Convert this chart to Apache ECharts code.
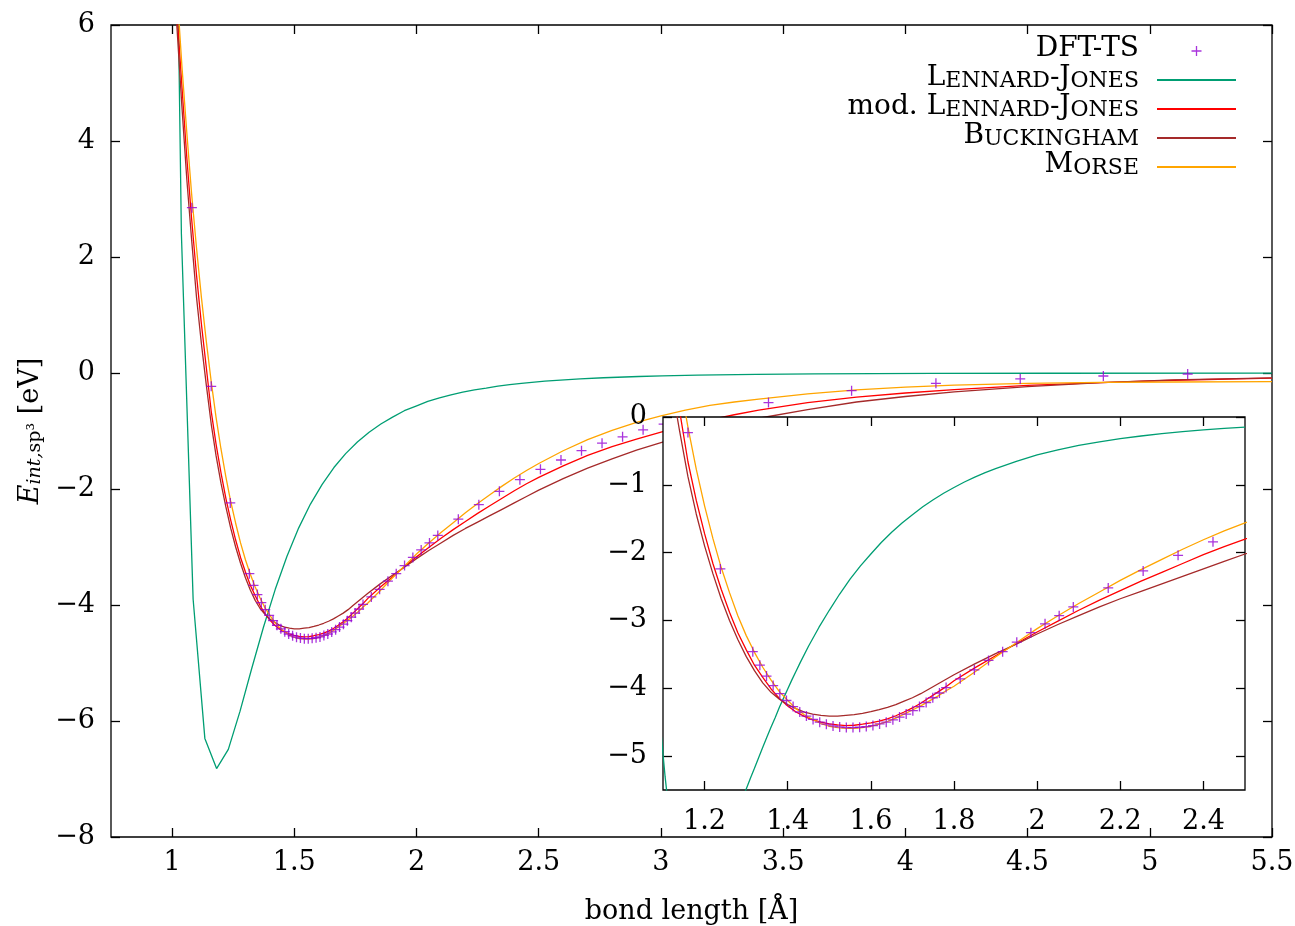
<!DOCTYPE html>
<html><head><meta charset="utf-8">
<script src="https://cdn.jsdelivr.net/npm/echarts@6/dist/echarts.min.js"></script>
<style>html,body{margin:0;padding:0;background:#fff}#c{width:1295px;height:926px}</style>
</head><body><div id="c"></div>
<script>
// ---------- data ----------
const curveX = [1.00,1.02,1.04,1.06,1.08,1.10,1.12,1.14,1.16,1.18,1.20,1.22,1.24,1.26,1.28,1.30,1.32,1.34,1.36,1.38,1.40,1.42,1.44,1.46,1.48,1.50,1.52,1.54,1.56,1.58,1.60,1.62,1.64,1.66,1.68,1.70,1.72,1.74,1.76,1.78,1.80,1.85,1.90,1.95,2.00,2.05,2.10,2.15,2.20,2.25,2.30,2.35,2.40,2.45,2.50,2.60,2.70,2.80,2.90,3.00,3.10,3.20,3.30,3.40,3.60,3.80,4.00,4.20,4.50,4.80,5.10,5.50];
const morseY = [8.0,6.6,5.3,4.15,3.08,2.15,1.30,0.54,-0.15,-0.77,-1.31,-1.79,-2.22,-2.59,-2.93,-3.22,-3.47,-3.69,-3.88,-4.05,-4.18,-4.30,-4.39,-4.46,-4.52,-4.56,-4.58,-4.59,-4.59,-4.58,-4.56,-4.53,-4.49,-4.44,-4.38,-4.32,-4.26,-4.19,-4.12,-4.04,-3.97,-3.76,-3.54,-3.33,-3.12,-2.93,-2.75,-2.58,-2.41,-2.25,-2.10,-1.95,-1.81,-1.68,-1.56,-1.34,-1.15,-0.99,-0.85,-0.74,-0.64,-0.56,-0.50,-0.45,-0.36,-0.29,-0.245,-0.21,-0.178,-0.162,-0.155,-0.15];
const modLjY = [7.65,6.2,4.95,3.72,2.65,1.68,0.84,0.09,-0.66,-1.23,-1.72,-2.16,-2.54,-2.88,-3.18,-3.43,-3.66,-3.84,-4.01,-4.15,-4.26,-4.35,-4.415,-4.465,-4.50,-4.525,-4.54,-4.55,-4.545,-4.53,-4.51,-4.485,-4.45,-4.405,-4.35,-4.29,-4.22,-4.14,-4.06,-3.98,-3.89,-3.70,-3.52,-3.34,-3.17,-3.01,-2.85,-2.70,-2.56,-2.42,-2.29,-2.16,-2.03,-1.91,-1.80,-1.60,-1.42,-1.27,-1.14,-1.02,-0.91,-0.81,-0.72,-0.64,-0.51,-0.415,-0.345,-0.285,-0.215,-0.165,-0.125,-0.09];
const buckY = [7.45,5.95,4.6,3.35,2.29,1.30,0.50,-0.21,-0.88,-1.43,-1.90,-2.31,-2.68,-3.00,-3.28,-3.53,-3.74,-3.92,-4.06,-4.16,-4.24,-4.30,-4.35,-4.38,-4.40,-4.41,-4.41,-4.40,-4.39,-4.37,-4.345,-4.315,-4.28,-4.24,-4.19,-4.14,-4.08,-4.01,-3.94,-3.87,-3.80,-3.64,-3.49,-3.35,-3.20,-3.06,-2.93,-2.80,-2.68,-2.57,-2.46,-2.35,-2.24,-2.13,-2.02,-1.82,-1.64,-1.48,-1.33,-1.20,-1.08,-0.97,-0.87,-0.78,-0.63,-0.50,-0.405,-0.325,-0.235,-0.165,-0.12,-0.085];

// Lennard-Jones as sampled coarsely in the main panel
const ljMainX = [0.990,1.038,1.086,1.134,1.182,1.230,1.278,1.326,1.374,1.422,1.470,1.518,1.566,1.614,1.662,1.710,1.758,1.806,1.854,1.902,1.950,1.998,2.046,2.094,2.141,2.189,2.237,2.285,2.333,2.381,2.429,2.525,2.621,2.669,2.765,2.909,3.005,3.149,3.389,3.629,4.109,4.588,5.500];
const ljMainY = [16.9,2.4,-3.9,-6.3,-6.82,-6.49,-5.83,-5.09,-4.38,-3.73,-3.16,-2.67,-2.26,-1.92,-1.63,-1.39,-1.19,-1.02,-0.88,-0.76,-0.65,-0.57,-0.49,-0.43,-0.376,-0.33,-0.29,-0.26,-0.226,-0.20,-0.18,-0.141,-0.113,-0.10,-0.082,-0.06,-0.05,-0.038,-0.024,-0.016,-0.008,-0.004,-0.001];
// Lennard-Jones as sampled finely in the inset
const ljInsetX = [1.09,1.10,1.105,1.11,1.115,1.12,1.18,1.24,1.28,1.29,1.30,1.31,1.32,1.33,1.34,1.35,1.36,1.37,1.38,1.39,1.40,1.41,1.42,1.43,1.45,1.475,1.50,1.525,1.55,1.575,1.60,1.625,1.65,1.675,1.70,1.725,1.75,1.775,1.80,1.825,1.85,1.875,1.90,1.95,2.00,2.05,2.10,2.15,2.20,2.25,2.30,2.35,2.40,2.45,2.50];
const ljInsetY = [-4.30,-4.97,-5.30,-5.58,-5.84,-6.05,-6.82,-6.36,-5.80,-5.64,-5.49,-5.33,-5.18,-5.025,-4.87,-4.72,-4.57,-4.43,-4.28,-4.145,-4.01,-3.876,-3.75,-3.622,-3.38,-3.103,-2.85,-2.61,-2.39,-2.196,-2.02,-1.851,-1.70,-1.563,-1.44,-1.324,-1.22,-1.125,-1.04,-0.959,-0.886,-0.82,-0.76,-0.655,-0.56,-0.486,-0.42,-0.367,-0.32,-0.28,-0.246,-0.217,-0.19,-0.169,-0.15];

const dftX = [1.081,1.160,1.238,1.316,1.333,1.349,1.365,1.381,1.397,1.413,1.429,1.445,1.461,1.477,1.493,1.509,1.525,1.541,1.557,1.573,1.589,1.605,1.621,1.637,1.653,1.669,1.685,1.701,1.717,1.733,1.749,1.765,1.781,1.815,1.849,1.883,1.917,1.951,1.985,2.019,2.053,2.087,2.171,2.255,2.339,2.423,2.507,2.591,2.675,2.759,2.843,2.927,3.011,3.440,3.780,4.125,4.470,4.810,5.155];
const dftY = [2.85,-0.23,-2.24,-3.46,-3.66,-3.82,-3.96,-4.08,-4.18,-4.27,-4.35,-4.41,-4.46,-4.50,-4.53,-4.555,-4.57,-4.58,-4.58,-4.575,-4.565,-4.55,-4.525,-4.50,-4.465,-4.425,-4.38,-4.33,-4.27,-4.21,-4.14,-4.07,-3.99,-3.86,-3.73,-3.59,-3.46,-3.32,-3.18,-3.05,-2.93,-2.80,-2.52,-2.27,-2.04,-1.84,-1.66,-1.50,-1.34,-1.21,-1.10,-0.98,-0.88,-0.51,-0.305,-0.178,-0.103,-0.052,-0.017];

const mainXTicks = [1,1.5,2,2.5,3,3.5,4,4.5,5,5.5];
const mainYTicks = [-8,-6,-4,-2,0,2,4,6];
const insetXTicks = [1.2,1.4,1.6,1.8,2,2.2,2.4];
const insetYTicks = [-5,-4,-3,-2,-1,0];

const seriesNames = ['DFT-TS','Lennard-Jones','mod. Lennard-Jones','Buckingham','Morse'];
const legendRich = {
  'DFT-TS': '{a|DFT-TS}{g| }',
  'Lennard-Jones': '{a|L}{b|ENNARD}{a|-J}{b|ONES}{g| }',
  'mod. Lennard-Jones': '{a|mod. L}{b|ENNARD}{a|-J}{b|ONES}{g| }',
  'Buckingham': '{a|B}{b|UCKINGHAM}{g| }',
  'Morse': '{a|M}{b|ORSE}{g| }'
};

// ---------- chart ----------
const F = 'DejaVu Serif';
const zip = (xs, ys) => xs.map((x, i) => [x, ys[i]]);
const fmt = v => String(v).replace('-', '\u2212');
const colors = {dft:'#9400d3', lj:'#009e73', mod:'#ff0000', buck:'#a52a2a', morse:'#ffa500'};
const plus = 'path://M0,4.35H10V5.65H0ZM4.35,0H5.65V10H4.35Z';

function ax(grid, min, max, ticks, pos, labels, z, margin, extra) {
  return Object.assign({
    gridIndex: grid, type: 'value', min: min, max: max, position: pos, z: z,
    axisLine: {show: false, onZero: false}, splitLine: {show: false},
    axisTick: {show: true, inside: true, length: 9, customValues: ticks, lineStyle: {color: '#000', width: 1.3}},
    axisLabel: {show: labels, customValues: ticks, formatter: fmt, color: '#000', fontFamily: F, fontSize: 27,
                margin: margin, hideOverlap: false, showMinLabel: true, showMaxLabel: true}
  }, extra || {});
}

const lineS = (name, data, color, xi, yi, z) => ({
  name: name, type: 'line', xAxisIndex: xi, yAxisIndex: yi, data: data, z: z,
  symbol: 'none', showSymbol: false, clip: true, smooth: false,
  lineStyle: {color: color, width: 1.3}, itemStyle: {color: color}
});
const dotS = (xi, yi, z) => ({
  name: 'DFT-TS', type: 'scatter', xAxisIndex: xi, yAxisIndex: yi, z: z, clip: true,
  data: zip(dftX, dftY), symbol: plus, symbolSize: 10, itemStyle: {color: colors.dft}
});

const noDot = {color: 'rgba(0,0,0,0)', borderWidth: 0};
const chart = echarts.init(document.getElementById('c'), null, {renderer: 'canvas'});
chart.setOption({
  animation: false,
  backgroundColor: '#fff',
  grid: [
    {left: 111, top: 25, right: 23, bottom: 89, containLabel: false, outerBoundsMode: 'none',
     show: true, borderColor: '#000', borderWidth: 1.3, backgroundColor: 'rgba(0,0,0,0)'},
    {left: 663, top: 417, width: 582, height: 373, containLabel: false, outerBoundsMode: 'none',
     show: true, borderColor: '#000', borderWidth: 1.3, backgroundColor: '#fff', z: 10}
  ],
  xAxis: [
    ax(0, 0.75, 5.5, mainXTicks, 'bottom', true, 1, 12, {
      name: 'bond length [Å]', nameLocation: 'middle', nameGap: 61,
      nameTextStyle: {color: '#000', fontFamily: F, fontSize: 27}
    }),
    ax(0, 0.75, 5.5, mainXTicks, 'top', false, 1, 12),
    ax(1, 1.1, 2.5, insetXTicks, 'bottom', true, 11, 18),
    ax(1, 1.1, 2.5, insetXTicks, 'top', false, 11, 18)
  ],
  yAxis: [
    ax(0, -8, 6, mainYTicks, 'left', true, 1, 16, {
      name: '{e|E}{si|int,}{sr|sp³}{n| [eV]}', nameLocation: 'middle', nameGap: 64, nameRotate: 90,
      nameTextStyle: {color: '#000', fontFamily: F, fontSize: 27, rich: {
        e: {fontFamily: F, fontStyle: 'italic', fontSize: 27, lineHeight: 30, verticalAlign: 'bottom', color: '#000'},
        si: {fontFamily: F, fontStyle: 'italic', fontSize: 19, lineHeight: 13, verticalAlign: 'bottom', color: '#000'},
        sr: {fontFamily: F, fontSize: 19, lineHeight: 13, verticalAlign: 'bottom', color: '#000'},
        n: {fontFamily: F, fontSize: 27, lineHeight: 30, verticalAlign: 'bottom', color: '#000'}
      }}
    }),
    ax(0, -8, 6, mainYTicks, 'right', false, 1, 16),
    ax(1, -5.5, 0, insetYTicks, 'left', true, 11, 16),
    ax(1, -5.5, 0, insetYTicks, 'right', false, 11, 16)
  ],
  legend: {
    orient: 'vertical', right: 58, top: 35, padding: 0, align: 'right',
    itemWidth: 79, itemHeight: 10, itemGap: 1, selectedMode: false, z: 20,
    data: [
      {name: seriesNames[0]},
      {name: seriesNames[1], itemStyle: noDot},
      {name: seriesNames[2], itemStyle: noDot},
      {name: seriesNames[3], itemStyle: noDot},
      {name: seriesNames[4], itemStyle: noDot}
    ],
    formatter: name => legendRich[name],
    textStyle: {color: '#000', fontFamily: F, rich: {
      a: {fontFamily: F, fontSize: 28, lineHeight: 24, verticalAlign: 'bottom', color: '#000'},
      b: {fontFamily: F, fontSize: 22, lineHeight: 20.4, verticalAlign: 'bottom', color: '#000'},
      g: {width: 13, fontSize: 10}
    }}
  },
  series: [
    dotS(0, 0, 2),
    lineS('Lennard-Jones', zip(ljMainX, ljMainY), colors.lj, 0, 0, 2),
    lineS('mod. Lennard-Jones', zip(curveX, modLjY), colors.mod, 0, 0, 2),
    lineS('Buckingham', zip(curveX, buckY), colors.buck, 0, 0, 2),
    lineS('Morse', zip(curveX, morseY), colors.morse, 0, 0, 2),
    dotS(2, 2, 12),
    lineS('Lennard-Jones', zip(ljInsetX, ljInsetY), colors.lj, 2, 2, 12),
    lineS('mod. Lennard-Jones', zip(curveX, modLjY), colors.mod, 2, 2, 12),
    lineS('Buckingham', zip(curveX, buckY), colors.buck, 2, 2, 12),
    lineS('Morse', zip(curveX, morseY), colors.morse, 2, 2, 12)
  ]
});
</script>
</body></html>
